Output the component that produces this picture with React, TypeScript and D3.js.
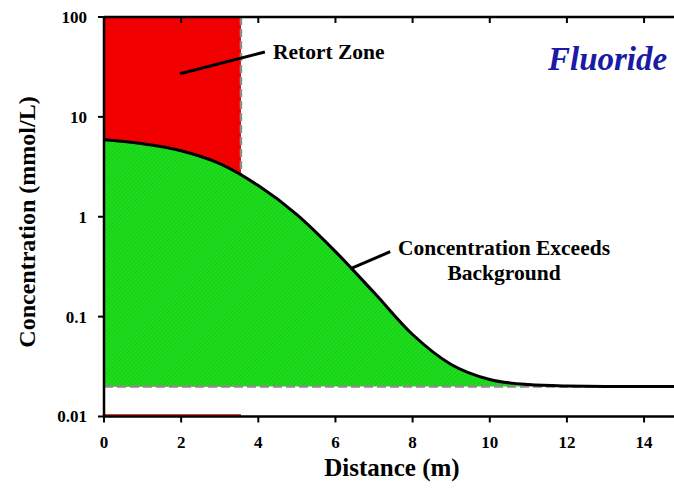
import React from 'react';
import * as d3 from 'd3';

// distance (m) and fluoride concentration (mmol/L)
const distance = [0, 1, 2, 3, 4, 5, 6, 7, 8, 9, 10, 11, 12, 13, 14, 15];
const concentration = [5.9, 5.38, 4.58, 3.4, 2.05, 1.05, 0.448, 0.174, 0.0662, 0.0332, 0.0235, 0.0209, 0.0202, 0.02, 0.02, 0.02];

const background = 0.02;
const retortEdge = 3.55;

const xTicks = [0, 2, 4, 6, 8, 10, 12, 14];
const yTicks = [0.01, 0.1, 1, 10, 100];
const yTickLabels = ['0.01', '0.1', '1', '10', '100'];

const W = 674;
const H = 496;

// log-space interpolation of the curve at a given distance
function valueAt(d: number) {
  const i = d3.bisectRight(distance, d) - 1;
  const t = (d - distance[i]) / (distance[i + 1] - distance[i]);
  const a = Math.log10(concentration[i]);
  const b = Math.log10(concentration[i + 1]);
  return Math.pow(10, a + (b - a) * t);
}

export default function App() {
  const x = d3.scaleLinear().domain([0, 14.75]).range([104, 673]);
  const y = d3.scaleLog().domain([0.01, 100]).range([416.5, 17]);
  const xEnd = 15;

  const pts = distance.map((d, i) => ({ d, c: concentration[i] }));

  const line = d3
    .line<{ d: number; c: number }>()
    .x((p) => x(p.d))
    .y((p) => y(p.c))
    .curve(d3.curveMonotoneX);

  const area = d3
    .area<{ d: number; c: number }>()
    .x((p) => x(p.d))
    .y0(y(background))
    .y1((p) => y(p.c))
    .curve(d3.curveMonotoneX);

  const serif = '"Liberation Serif", "Times New Roman", serif';
  const edgeValue = valueAt(retortEdge);

  return (
    <svg
      width={W}
      height={H}
      style={{ position: 'absolute', left: 0, top: 0, background: '#fff' }}
      fontFamily={serif}
    >
      <defs>
        <pattern id="hatch" width="3" height="3" patternUnits="userSpaceOnUse" patternTransform="rotate(45)">
          <rect width="3" height="3" fill="#1edc1e" />
          <line x1="0" y1="0" x2="0" y2="3" stroke="#10c010" strokeWidth="1" />
        </pattern>
      </defs>

      {/* retort zone */}
      <rect
        x={x(0)}
        y={y(100)}
        width={x(retortEdge) - x(0)}
        height={y(background) - y(100)}
        fill="#f20000"
      />
      <line
        x1={x(0)}
        x2={x(retortEdge)}
        y1={y(0.01) - 1.5}
        y2={y(0.01) - 1.5}
        stroke="#c00000"
        strokeWidth={1.5}
      />

      {/* concentration above background */}
      <path d={area(pts) || ''} fill="url(#hatch)" />

      {/* dashed guides */}
      <line
        x1={x(retortEdge)}
        x2={x(retortEdge)}
        y1={y(100)}
        y2={y(edgeValue)}
        stroke="#8c8c8c"
        strokeWidth={2.5}
        strokeDasharray="8,4"
      />
      <line
        x1={x(0)}
        x2={x(xEnd)}
        y1={y(background)}
        y2={y(background)}
        stroke="#8c8c8c"
        strokeWidth={2.5}
        strokeDasharray="9,4"
      />

      <path d={line(pts) || ''} fill="none" stroke="#000" strokeWidth={3} />

      {/* axes */}
      <line x1={x(0)} x2={x(xEnd)} y1={y(100)} y2={y(100)} stroke="#000" strokeWidth={2.5} />
      <line x1={x(0)} x2={x(xEnd)} y1={y(0.01)} y2={y(0.01)} stroke="#000" strokeWidth={2.5} />
      <line x1={x(0)} x2={x(0)} y1={y(100)} y2={y(0.01)} stroke="#000" strokeWidth={2.5} />

      {xTicks.map((t) => (
        <g key={'x' + t}>
          <line x1={x(t)} x2={x(t)} y1={y(0.01)} y2={y(0.01) + 6} stroke="#000" strokeWidth={2} />
          <line x1={x(t)} x2={x(t)} y1={y(100)} y2={y(100) + 6} stroke="#000" strokeWidth={2} />
          <text x={x(t)} y={448} textAnchor="middle" fontSize={17} fontWeight="bold">
            {t}
          </text>
        </g>
      ))}

      {yTicks.map((t, i) => (
        <g key={'y' + t}>
          <line x1={x(0) - 6} x2={x(0)} y1={y(t)} y2={y(t)} stroke="#000" strokeWidth={2} />
          <text x={87} y={y(t)} dy="0.35em" textAnchor="end" fontSize={17} fontWeight="bold">
            {yTickLabels[i]}
          </text>
        </g>
      ))}

      {/* axis titles */}
      <text x={392} y={476} textAnchor="middle" fontSize={25} fontWeight="bold">
        Distance (m)
      </text>
      <text
        transform={`translate(35,222) rotate(-90)`}
        textAnchor="middle"
        fontSize={24}
        fontWeight="bold"
      >
        Concentration (mmol/L)
      </text>

      {/* annotations */}
      <line x1={x(1.97)} y1={y(27)} x2={x(4.17)} y2={y(44.7)} stroke="#000" strokeWidth={3} />
      <text x={x(4.38)} y={y(38)} fontSize={21.5} fontWeight="bold">
        Retort Zone
      </text>

      <line x1={x(6.38)} y1={y(0.3)} x2={x(7.42)} y2={y(0.447)} stroke="#000" strokeWidth={3} />
      <text x={x(10.37)} y={y(0.417)} textAnchor="middle" fontSize={21.5} fontWeight="bold">
        Concentration Exceeds
      </text>
      <text x={x(10.37)} y={y(0.234)} textAnchor="middle" fontSize={21.5} fontWeight="bold">
        Background
      </text>

      <text
        x={x(14.6)}
        y={y(29.5)}
        textAnchor="end"
        fontSize={33}
        fontWeight="bold"
        fontStyle="italic"
        fill="#1a1aa6"
      >
        Fluoride
      </text>
    </svg>
  );
}
